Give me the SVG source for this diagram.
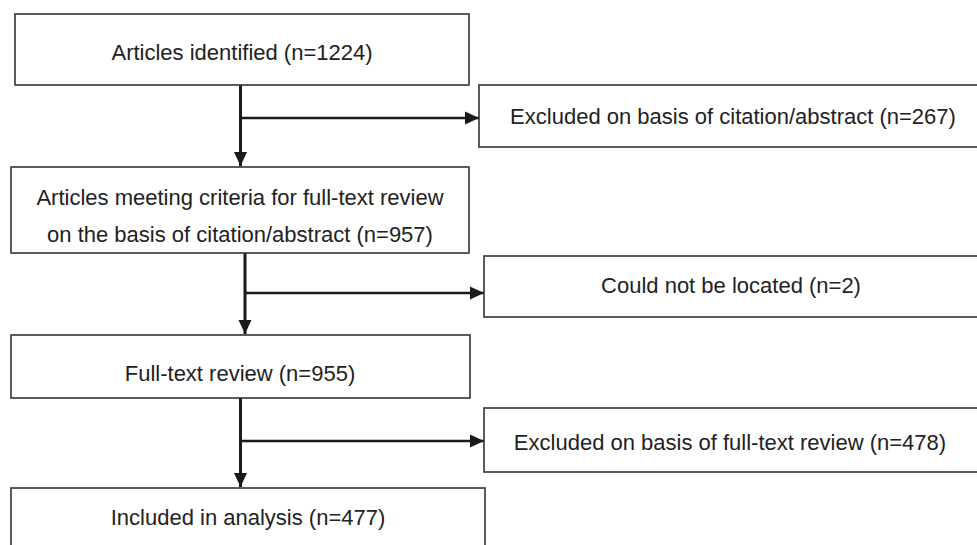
<svg xmlns="http://www.w3.org/2000/svg" width="977" height="545" viewBox="0 0 977 545">
<defs>
<marker id="arr" markerUnits="userSpaceOnUse" markerWidth="15" markerHeight="15" viewBox="0 0 15 15" refX="14" refY="7.5" orient="auto">
<path d="M0,1 L14,7.5 L0,14 Z" fill="#1a1a1a"/>
</marker>
<style>
.box{fill:#fff;stroke:#333;stroke-width:1.6}
.t{font-family:"Liberation Sans",Arial,sans-serif;font-size:22px;fill:#222;text-anchor:middle}
.v{stroke:#1a1a1a;stroke-width:3;fill:none}
.h{stroke:#1a1a1a;stroke-width:2.5;fill:none}
</style>
</defs>
<rect width="977" height="545" fill="#fff"/>
<g id="connectors">
<line class="v" x1="240.5" y1="85" x2="240.5" y2="166" marker-end="url(#arr)"/>
<line class="h" x1="240.5" y1="118" x2="479" y2="118" marker-end="url(#arr)"/>
<line class="v" x1="245" y1="253" x2="245" y2="334" marker-end="url(#arr)"/>
<line class="h" x1="245" y1="293" x2="484" y2="293" marker-end="url(#arr)"/>
<line class="v" x1="240.5" y1="398" x2="240.5" y2="487" marker-end="url(#arr)"/>
<line class="h" x1="240.5" y1="441" x2="484" y2="441" marker-end="url(#arr)"/>
</g>
<g id="n1">
<rect class="box" x="15" y="14" width="454" height="71"/>
<text class="t" x="242" y="60">Articles identified (n=1224)</text>
</g>
<g id="n2">
<rect class="box" x="479" y="85" width="510" height="62"/>
<text class="t" x="733" y="124">Excluded on basis of citation/abstract (n=267)</text>
</g>
<g id="n3">
<rect class="box" x="11" y="167" width="458" height="86"/>
<text class="t" x="240" y="205">Articles meeting criteria for full-text review</text>
<text class="t" x="240" y="242">on the basis of citation/abstract (n=957)</text>
</g>
<g id="n4">
<rect class="box" x="484" y="256" width="510" height="61"/>
<text class="t" x="731" y="293">Could not be located (n=2)</text>
</g>
<g id="n5">
<rect class="box" x="11" y="335" width="459" height="63"/>
<text class="t" x="240" y="381">Full-text review (n=955)</text>
</g>
<g id="n6">
<rect class="box" x="484" y="408" width="510" height="64"/>
<text class="t" x="730" y="450">Excluded on basis of full-text review (n=478)</text>
</g>
<g id="n7">
<rect class="box" x="11" y="488" width="474" height="80"/>
<text class="t" x="248" y="525">Included in analysis (n=477)</text>
</g>
</svg>
